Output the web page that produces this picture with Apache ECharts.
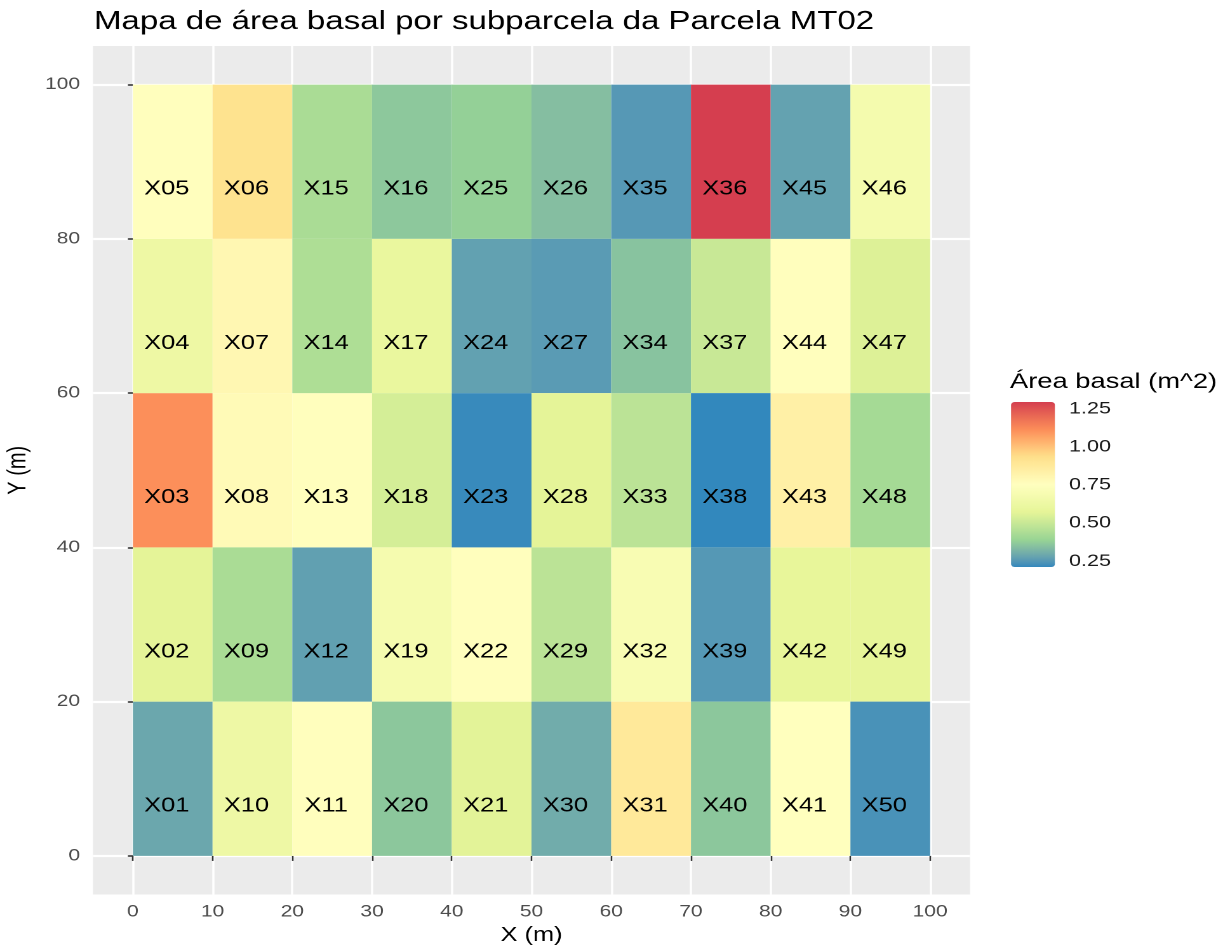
<!DOCTYPE html>
<html>
<head>
<meta charset="utf-8">
<script src="https://cdn.jsdelivr.net/npm/echarts@6/dist/echarts.min.js"></script>
<style>
  html, body { margin: 0; padding: 0; background: #fff; overflow: hidden; }
  #chart { height: 946px; transform-origin: 0 0; }
</style>
</head>
<body>
<div id="chart"></div>
<script>
// subparcelas X01..X50 (canto inferior esquerdo de cada subparcela, em m)
const plotNames = [
  'X01', 'X02', 'X03', 'X04', 'X05', 'X06', 'X07', 'X08', 'X09', 'X10',
  'X11', 'X12', 'X13', 'X14', 'X15', 'X16', 'X17', 'X18', 'X19', 'X20',
  'X21', 'X22', 'X23', 'X24', 'X25', 'X26', 'X27', 'X28', 'X29', 'X30',
  'X31', 'X32', 'X33', 'X34', 'X35', 'X36', 'X37', 'X38', 'X39', 'X40',
  'X41', 'X42', 'X43', 'X44', 'X45', 'X46', 'X47', 'X48', 'X49', 'X50'
];
const plotX = [
  0, 0, 0, 0, 0, 10, 10, 10, 10, 10,
  20, 20, 20, 20, 20, 30, 30, 30, 30, 30,
  40, 40, 40, 40, 40, 50, 50, 50, 50, 50,
  60, 60, 60, 60, 60, 70, 70, 70, 70, 70,
  80, 80, 80, 80, 80, 90, 90, 90, 90, 90
];
const plotY = [
  0, 20, 40, 60, 80, 80, 60, 40, 20, 0,
  0, 20, 40, 60, 80, 80, 60, 40, 20, 0,
  0, 20, 40, 60, 80, 80, 60, 40, 20, 0,
  0, 20, 40, 60, 80, 80, 60, 40, 20, 0,
  0, 20, 40, 60, 80, 80, 60, 40, 20, 0
];
const basalArea = [
  0.287, 0.57, 1.11, 0.63, 0.76, 0.92, 0.80, 0.78, 0.43, 0.635,
  0.76, 0.27, 0.76, 0.44, 0.43, 0.361, 0.60, 0.53, 0.68, 0.36,
  0.565, 0.76, 0.217, 0.271, 0.38, 0.341, 0.258, 0.57, 0.47, 0.298,
  0.88, 0.70, 0.47, 0.35, 0.252, 1.296, 0.50, 0.211, 0.251, 0.36,
  0.75, 0.585, 0.84, 0.76, 0.274, 0.674, 0.55, 0.42, 0.58, 0.235
];
const xTicks = [0, 10, 20, 30, 40, 50, 60, 70, 80, 90, 100];
const yTicks = [0, 20, 40, 60, 80, 100];
const legendTicks = [0.25, 0.5, 0.75, 1.0, 1.25];

// Spectral (7 classes, reversed: low = blue, high = red)
const spectral = ['#3288BD', '#99D594', '#E6F598', '#FFFFBF', '#FEE08B', '#FC8D59', '#D53E4F'];

const TILE_W = 10;
const TILE_H = 20;
const LABEL_DX = 4.25;
const LABEL_DY = 6.45;
const FONT = '"Liberation Sans", Arial, sans-serif';

// the reference image is stretched horizontally; draw narrower and stretch
const S = 1.27;
const sx = (v) => v / S;

// --- Lab interpolation of the palette (like ggplot's gradient_n_pal) ---
const lin = (c) => { c /= 255; return c <= 0.04045 ? c / 12.92 : Math.pow((c + 0.055) / 1.055, 2.4); };
const gam = (c) => {
  c = c <= 0.0031308 ? 12.92 * c : 1.055 * Math.pow(c, 1 / 2.4) - 0.055;
  return Math.round(Math.min(1, Math.max(0, c)) * 255);
};
const WHITE = [0.95047, 1, 1.08883];
function hexToLab(hex) {
  const r = lin(parseInt(hex.slice(1, 3), 16));
  const g = lin(parseInt(hex.slice(3, 5), 16));
  const b = lin(parseInt(hex.slice(5, 7), 16));
  const xyz = [
    0.4124564 * r + 0.3575761 * g + 0.1804375 * b,
    0.2126729 * r + 0.7151522 * g + 0.0721750 * b,
    0.0193339 * r + 0.1191920 * g + 0.9503041 * b
  ];
  const f = xyz.map((v, i) => {
    const t = v / WHITE[i];
    return t > 0.008856 ? Math.cbrt(t) : 7.787 * t + 16 / 116;
  });
  return [116 * f[1] - 16, 500 * (f[0] - f[1]), 200 * (f[1] - f[2])];
}
function labToHex([L, a, b]) {
  const fy = (L + 16) / 116;
  const fx = fy + a / 500;
  const fz = fy - b / 200;
  const inv = (t) => (t * t * t > 0.008856 ? t * t * t : (t - 16 / 116) / 7.787);
  const X = inv(fx) * WHITE[0], Y = inv(fy) * WHITE[1], Z = inv(fz) * WHITE[2];
  const r = 3.2404542 * X - 1.5371385 * Y - 0.4985314 * Z;
  const g = -0.9692660 * X + 1.8760108 * Y + 0.0415560 * Z;
  const bl = 0.0556434 * X - 0.2040259 * Y + 1.0572252 * Z;
  return '#' + [gam(r), gam(g), gam(bl)].map((v) => v.toString(16).padStart(2, '0')).join('');
}
function labRamp(colors, n) {
  const labs = colors.map(hexToLab);
  const out = [];
  for (let k = 0; k <= n; k++) {
    const t = (k / n) * (labs.length - 1);
    const i = Math.min(Math.floor(t), labs.length - 2);
    const f = t - i;
    out.push(labToHex(labs[i].map((v, j) => v + (labs[i + 1][j] - v) * f)));
  }
  return out;
}
const rampColors = labRamp(spectral, 72);

const vMin = Math.min(...basalArea);
const vMax = Math.max(...basalArea);

const tiles = plotNames.map((name, i) => [plotX[i], plotY[i], basalArea[i], name]);

const dom = document.getElementById('chart');
dom.style.width = sx(1230) + 'px';
dom.style.transform = 'scaleX(' + S + ')';

const chart = echarts.init(dom, null, { devicePixelRatio: 2 });

chart.setOption({
  backgroundColor: '#ffffff',
  animation: false,
  textStyle: { fontFamily: FONT },
  title: {
    text: 'Mapa de área basal por subparcela da Parcela MT02',
    left: sx(94),
    top: 9,
    padding: 0,
    textStyle: { fontFamily: FONT, fontSize: 26, fontWeight: 'normal', color: '#000' }
  },
  grid: [
    {
      left: sx(93), top: 46, width: sx(877), height: 848.5,
      backgroundColor: '#EBEBEB', show: true, borderWidth: 0,
      outerBoundsMode: 'none', containLabel: false
    },
    {
      left: sx(1011), top: 402, width: sx(44), height: 165,
      show: false, outerBoundsMode: 'none', containLabel: false
    }
  ],
  visualMap: {
    type: 'continuous',
    min: vMin,
    max: vMax,
    dimension: 2,
    seriesIndex: 0,
    calculable: false,
    orient: 'vertical',
    left: sx(1011),
    top: 402,
    padding: 0,
    itemWidth: sx(44),
    itemHeight: 165,
    text: null,
    showLabel: false,
    inRange: { color: rampColors }
  },
  xAxis: [
    {
      type: 'value',
      gridIndex: 0,
      min: -5,
      max: 105,
      name: 'X (m)',
      nameLocation: 'middle',
      nameGap: 29,
      nameTextStyle: { fontFamily: FONT, fontSize: 20, color: '#000' },
      axisLine: { show: false },
      axisTick: { show: true, length: 5, customValues: xTicks, lineStyle: { color: '#333', width: sx(1.6) } },
      axisLabel: { customValues: xTicks, fontFamily: FONT, fontSize: 16.5, color: '#4D4D4D', margin: 9 },
      splitLine: { show: true, lineStyle: { color: '#fff', width: sx(2.2) } }
    },
    {
      type: 'value',
      gridIndex: 1,
      show: false
    }
  ],
  yAxis: [
    {
      type: 'value',
      gridIndex: 0,
      min: -5,
      max: 105,
      name: 'Y (m)',
      nameLocation: 'middle',
      nameGap: sx(45),
      nameTextStyle: { fontFamily: FONT, fontSize: 20, color: '#000' },
      axisLine: { show: false },
      axisTick: { show: true, length: sx(5), customValues: yTicks, lineStyle: { color: '#333', width: 1.6 } },
      axisLabel: { customValues: yTicks, fontFamily: FONT, fontSize: 16.5, color: '#4D4D4D', margin: sx(13) },
      splitLine: { show: true, lineStyle: { color: '#fff', width: 2.2 } }
    },
    {
      type: 'value',
      gridIndex: 1,
      min: vMin,
      max: vMax,
      position: 'left',
      axisLine: { show: false },
      axisTick: {
        show: true, inside: true, length: sx(9), customValues: legendTicks,
        lineStyle: { color: 'rgba(255,255,255,0.75)', width: 1.2 }
      },
      axisLabel: { show: false },
      splitLine: { show: false }
    },
    {
      type: 'value',
      gridIndex: 1,
      min: vMin,
      max: vMax,
      position: 'right',
      axisLine: { show: false },
      axisTick: {
        show: true, inside: true, length: sx(9), customValues: legendTicks,
        lineStyle: { color: 'rgba(255,255,255,0.75)', width: 1.2 }
      },
      axisLabel: {
        customValues: legendTicks,
        fontFamily: FONT,
        fontSize: 17,
        color: '#1A1A1A',
        margin: sx(14),
        formatter: (v) => v.toFixed(2)
      },
      splitLine: { show: false }
    }
  ],
  graphic: [
    {
      type: 'text',
      left: sx(1010),
      top: 371,
      style: { text: 'Área basal (m^2)', font: '21.5px ' + FONT, fill: '#000' }
    }
  ],
  series: [
    {
      type: 'custom',
      xAxisIndex: 0,
      yAxisIndex: 0,
      data: tiles,
      encode: { x: 0, y: 1 },
      renderItem: (params, api) => {
        const x0 = api.value(0);
        const y0 = api.value(1);
        const tl = api.coord([x0, y0 + TILE_H]);
        const br = api.coord([x0 + TILE_W, y0]);
        const lp = api.coord([x0 + LABEL_DX, y0 + LABEL_DY]);
        return {
          type: 'group',
          children: [
            {
              type: 'rect',
              shape: { x: tl[0], y: tl[1], width: br[0] - tl[0], height: br[1] - tl[1] },
              style: { fill: api.visual('color') }
            },
            {
              type: 'text',
              x: lp[0],
              y: lp[1],
              style: {
                text: api.value(3),
                font: '20px ' + FONT,
                fill: '#000',
                align: 'center',
                verticalAlign: 'middle'
              }
            }
          ]
        };
      }
    }
  ]
});
</script>
</body>
</html>
